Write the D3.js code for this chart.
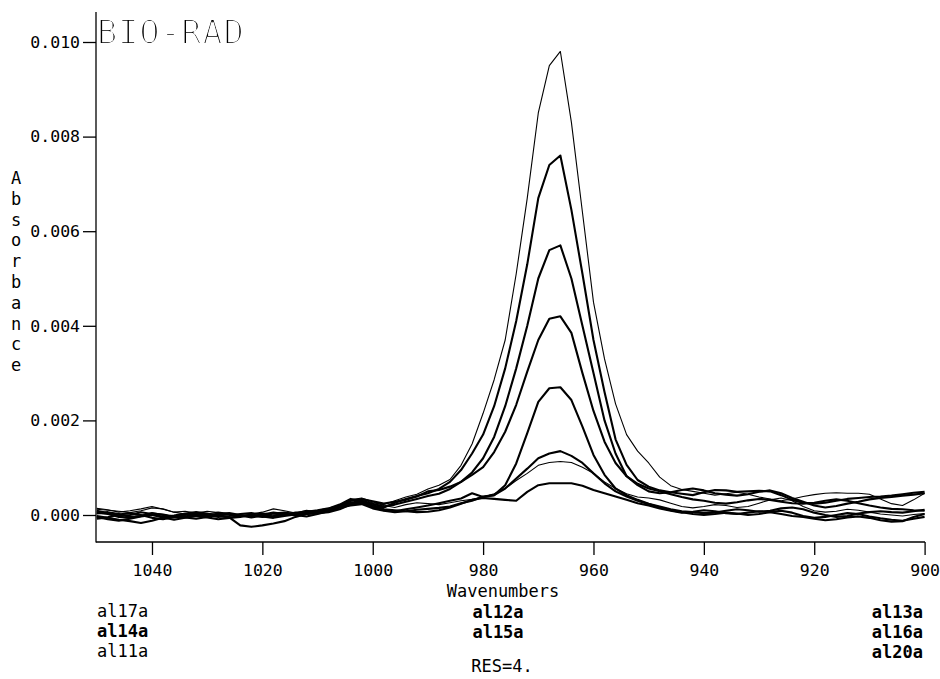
<!DOCTYPE html>
<html>
<head>
<meta charset="utf-8">
<script src="https://cdn.jsdelivr.net/npm/d3@7"></script>
<style>
  body { margin: 0; background: #fff; }
  svg text { font-family: "DejaVu Sans Mono", monospace; fill: #000; }
</style>
</head>
<body>
<div class="graph-container"></div>
<script>
const svgWidth = 940;
const svgHeight = 679;

// wavenumber grid (cm-1), 1050 -> 900
const wavenumbers = [
  1050, 1048, 1046, 1044, 1042, 1040, 1038, 1036, 1034, 1032,
  1030, 1028, 1026, 1024, 1022, 1020, 1018, 1016, 1014, 1012,
  1010, 1008, 1006, 1004, 1002, 1000, 998, 996, 994, 992,
  990, 988, 986, 984, 982, 980, 978, 976, 974, 972,
  970, 968, 966, 964, 962, 960, 958, 956, 954, 952,
  950, 948, 946, 944, 942, 940, 938, 936, 934, 932,
  930, 928, 926, 924, 922, 920, 918, 916, 914, 912,
  910, 908, 906, 904, 902, 900
];

// absorbance values, in units of 0.0001
const al17a = [
  1.2, 1.0, 0.8, 0.5, 0.9, 1.5, 1.3, 0.6, 0.2, 0.4,
  0.8, 0.5, 0.0, -0.3, 0.2, 0.6, 1.3, 0.9, 0.4, 1.0,
  0.6, 1.1, 1.8, 2.9, 3.3, 2.6, 2.2, 3.0, 3.8, 4.4,
  5.5, 6.3, 7.5, 10.5, 15, 21.5, 28.6, 37, 51, 67,
  85, 95, 98, 83, 64, 45, 33, 23.5, 17, 13.5,
  11, 8, 6.2, 5.4, 5.0, 4.6, 4.2, 4.5, 4.8, 4.4,
  3.8, 3.4, 3.0, 3.4, 3.9, 4.3, 4.6, 4.7, 4.6, 4.6,
  4.4, 3.4, 2.4, 2.0, 3.2, 4.6
];
const al20a = [
  0.3, 0.6, 0.2, -0.4, -0.2, 0.3, 0.1, -0.3, 0.2, 0.0,
  -0.2, 0.3, 0.1, -0.1, -0.5, -0.2, 0.3, 0.5, 0.2, 0.7,
  1.0, 1.4, 2.2, 3.4, 3.0, 2.0, 1.6, 2.6, 3.4, 4.0,
  4.6, 5.5, 7.0, 9.5, 13, 17, 23, 31, 41, 53,
  67, 74, 76, 64.5, 51, 37, 26, 16, 10.6, 7.4,
  6.0, 5.2, 4.8, 4.5, 4.2, 4.8, 5.3, 5.2, 4.9, 5.0,
  5.1, 5.0, 4.2, 3.2, 2.6, 2.4, 2.6, 3.0, 3.4, 3.6,
  3.8, 3.9, 4.1, 4.4, 4.7, 4.9
];
const al16a = [
  -0.8, -0.5, 0.1, 0.4, 0.0, -0.6, -0.9, -0.4, 0.0, 0.3,
  0.0, -0.4, -0.2, 0.2, 0.4, 0.1, -0.3, 0.0, 0.5, 0.3,
  0.6, 1.0, 1.9, 2.6, 3.0, 2.4, 1.8, 2.2, 2.8, 3.4,
  4.0, 4.5, 5.5, 7, 9, 12, 16.5, 23, 31, 40,
  50, 56, 57, 50, 40, 30, 20, 13, 8.2, 6.3,
  5.0, 4.6, 4.8, 5.3, 5.6, 5.2, 4.6, 4.3, 4.1, 4.4,
  4.9, 5.2, 4.6, 3.6, 2.8, 2.0, 1.6, 1.9, 2.4, 2.8,
  3.3, 3.6, 3.8, 4.1, 4.3, 4.6
];
const al15a = [
  0.9, 0.4, -0.2, 0.0, 0.6, 0.2, -0.4, -0.1, 0.3, 0.6,
  0.3, -0.1, -0.6, -0.4, 0.0, -0.3, -0.6, -0.2, 0.1, 0.6,
  0.9, 1.3, 2.0, 3.0, 3.4, 2.9, 2.4, 2.8, 3.2, 3.9,
  5.0, 5.3, 6.0, 7.0, 8.5, 10.1, 13.3, 17.6, 23.3, 30.3,
  37, 41.5, 42, 38.5, 30, 22, 15.5, 11, 8.2, 6.6,
  5.6, 5.0, 4.4, 3.8, 3.3, 3.0, 2.6, 2.4, 2.7, 3.1,
  3.4, 3.2, 2.8, 2.5, 2.4, 2.6, 3.0, 3.3, 3.0, 2.5,
  2.0, 1.6, 1.3, 1.2, 1.0, 0.9
];
const al14a = [
  -0.4, -0.9, -1.2, -0.8, -0.3, 0.0, -0.5, -1.0, -0.6, -0.2,
  -0.5, -0.9, -0.6, -0.2, 0.0, -0.4, -0.2, 0.3, 0.0, -0.3,
  0.2, 0.8, 1.6, 2.4, 2.6, 1.7, 1.0, 0.8, 1.2, 1.6,
  2.0, 2.5, 3.0, 3.5, 4.6, 3.8, 4.2, 6.3, 10.9, 17.3,
  23.9, 26.8, 27.0, 24.3, 18.7, 12.7, 8.5, 5.6, 4.2, 3.2,
  2.4, 1.8, 1.2, 0.8, 0.6, 0.4, 0.5, 0.9, 1.2, 1.0,
  0.7, 0.9, 1.4, 1.6, 1.2, 0.5, 0.0, -0.4, -0.2, 0.3,
  0.6, 0.8, 0.6, 0.5, 0.8, 1.1
];
const al13a = [
  0.5, 0.2, -0.4, -0.6, -0.2, 0.4, 0.0, -0.5, -0.3, 0.1,
  -0.2, 0.2, 0.4, 0.0, -0.3, 0.1, 0.5, 0.2, -0.1, 0.2,
  0.5, 0.9, 1.6, 2.0, 2.3, 1.4, 0.9, 0.6, 0.8, 1.1,
  1.3, 1.5, 1.8, 2.5, 3.0, 3.9, 4.2, 5.6, 7.7, 9.8,
  12, 13, 13.5, 12.5, 11, 8.8, 6.7, 5.0, 3.9, 3.0,
  2.3, 1.6, 1.0, 0.6, 0.2, 0.0, 0.2, 0.5, 0.3, 0.0,
  0.2, 0.6, 0.9, 0.5, -0.2, -0.6, -0.4, 0.0, 0.4, 0.2,
  -0.3, -0.7, -1.0, -1.2, -0.8, -0.4
];
const al11a = [
  1.4, 1.1, 0.6, 0.9, 1.3, 1.8, 1.2, 0.6, 0.8, 0.4,
  0.2, 0.6, 0.3, -0.2, 0.0, 0.4, 0.2, -0.1, 0.5, 0.9,
  0.7, 1.2, 2.1, 3.2, 3.6, 2.8, 2.0, 1.6, 2.2, 2.6,
  2.4, 2.2, 2.6, 3.0, 3.3, 3.8, 4.5, 5.6, 7.3, 8.8,
  10.5, 11.1, 11.3, 11.1, 10.1, 8.8, 7.0, 5.6, 4.5, 3.8,
  3.6, 3.2, 2.5, 1.8, 1.5, 1.8, 2.2, 2.0, 1.6, 1.8,
  2.5, 3.2, 3.6, 3.0, 1.8, 0.9, 0.6, 0.8, 1.2, 1.0,
  0.6, 0.2, 0.0, -0.2, 0.1, 0.3
];
const al12a = [
  -0.2, -0.6, -1.0, -1.3, -1.7, -1.2, -0.6, -0.2, -0.5, -0.8,
  -0.4, 0.0, -0.5, -2.2, -2.5, -2.2, -1.8, -1.3, -0.4, 0.2,
  0.4, 0.6, 1.2, 2.2, 2.8, 2.0, 1.2, 1.0, 0.8, 0.6,
  0.7, 1.0, 1.6, 2.4, 3.2, 3.6, 3.4, 3.2, 3.0, 4.9,
  6.3, 6.7, 6.7, 6.7, 6.2, 5.3, 4.6, 3.9, 3.2, 2.5,
  2.0, 1.4, 0.9, 0.5, 0.7, 1.0, 0.8, 0.4, 0.2, 0.5,
  0.8, 0.6, 0.2, -0.2, -0.4, -0.8, -1.1, -0.9, -0.5, -0.3,
  -0.6, -1.1, -1.4, -1.3, -0.4, 0.2
];

const seriesNames = ["al17a", "al20a", "al16a", "al15a", "al14a", "al13a", "al11a", "al12a"];
const seriesValues = [al17a, al20a, al16a, al15a, al14a, al13a, al11a, al12a];
const thinSeries = ["al17a", "al11a"];

const yTicks = [0, 0.002, 0.004, 0.006, 0.008, 0.010];
const xTicks = [1040, 1020, 1000, 980, 960, 940, 920, 900];

// file labels under the axis: [text, bold]
const leftLabels = [["al17a", false], ["al14a", true], ["al11a", false]];
const midLabels = [["al12a", true], ["al15a", true]];
const rightLabels = [["al13a", true], ["al16a", true], ["al20a", true]];

const xScale = d3.scaleLinear().domain([1050, 900]).range([96.8, 924.6]);
const yScale = d3.scaleLinear().domain([0, 0.010]).range([515, 42]);

const svg = d3.select(".graph-container")
    .append("svg")
    .attr("width", svgWidth)
    .attr("height", svgHeight);

svg.append("defs").append("filter")
    .attr("id", "thin")
    .append("feMorphology")
    .attr("operator", "erode")
    .attr("radius", 0.5);

// axes lines
svg.append("line")
    .attr("x1", 96).attr("x2", 96).attr("y1", 12).attr("y2", 542.5)
    .attr("stroke", "#000").attr("stroke-width", 1.3);
svg.append("line")
    .attr("x1", 96).attr("x2", 925).attr("y1", 542).attr("y2", 542)
    .attr("stroke", "#000").attr("stroke-width", 1.3);

const yAxis = d3.axisLeft(yScale)
    .tickValues(yTicks)
    .tickSize(13)
    .tickSizeOuter(0)
    .tickPadding(3)
    .tickFormat(d3.format(".3f"));
const yg = svg.append("g")
    .attr("transform", "translate(96,0)")
    .call(yAxis);
yg.select(".domain").remove();

const xAxis = d3.axisBottom(xScale)
    .tickValues(xTicks)
    .tickSize(13)
    .tickSizeOuter(0)
    .tickPadding(9)
    .tickFormat(d3.format("d"));
const xg = svg.append("g")
    .attr("transform", "translate(0,542)")
    .call(xAxis);
xg.select(".domain").remove();

[yg, xg].forEach(g => {
    g.attr("font-family", null).attr("font-size", null);
    g.selectAll(".tick line").attr("stroke", "#000").attr("stroke-width", 1.3);
    g.selectAll(".tick text")
        .style("font-size", "16.5px")
        .style("font-family", "'DejaVu Sans Mono', monospace")
        .attr("fill", "#000");
});

// spectra
const line = d3.line()
    .x((_, i) => xScale(wavenumbers[i]))
    .y(d => yScale(d * 0.0001));

svg.append("g")
    .selectAll("path")
    .data(seriesValues)
    .enter()
    .append("path")
    .attr("d", d => line(d))
    .attr("fill", "none")
    .attr("stroke", "#000")
    .attr("stroke-linejoin", "round")
    .attr("stroke-width", (_, i) => thinSeries.includes(seriesNames[i]) ? 1.1 : 2.1);

// title
svg.append("text")
    .attr("x", 97)
    .attr("y", 43.5)
    .style("font-size", "34px")
    .style("letter-spacing", "0.6px")
    .attr("filter", "url(#thin)")
    .text("BIO-RAD");

// y label, stacked letters
svg.append("g")
    .selectAll("text")
    .data("Absorbance".split(""))
    .enter()
    .append("text")
    .attr("x", 16)
    .attr("y", (_, i) => 184 + i * 20.8)
    .attr("text-anchor", "middle")
    .style("font-size", "17px")
    .text(d => d);

svg.append("text")
    .attr("x", 503)
    .attr("y", 597)
    .attr("text-anchor", "middle")
    .style("font-size", "17px")
    .text("Wavenumbers");

function labelColumn(labels, x, anchor, y0, step) {
    svg.append("g")
        .selectAll("text")
        .data(labels)
        .enter()
        .append("text")
        .attr("x", x)
        .attr("y", (_, i) => y0 + i * step)
        .attr("text-anchor", anchor)
        .style("font-size", "17px")
        .style("font-weight", d => d[1] ? "bold" : "normal")
        .text(d => d[0]);
}
labelColumn(leftLabels, 97, "start", 617, 20);
labelColumn(midLabels, 498, "middle", 618, 20);
labelColumn(rightLabels, 923, "end", 618, 20);

svg.append("text")
    .attr("x", 502)
    .attr("y", 672)
    .attr("text-anchor", "middle")
    .style("font-size", "17px")
    .text("RES=4.");
</script>
</body>
</html>
